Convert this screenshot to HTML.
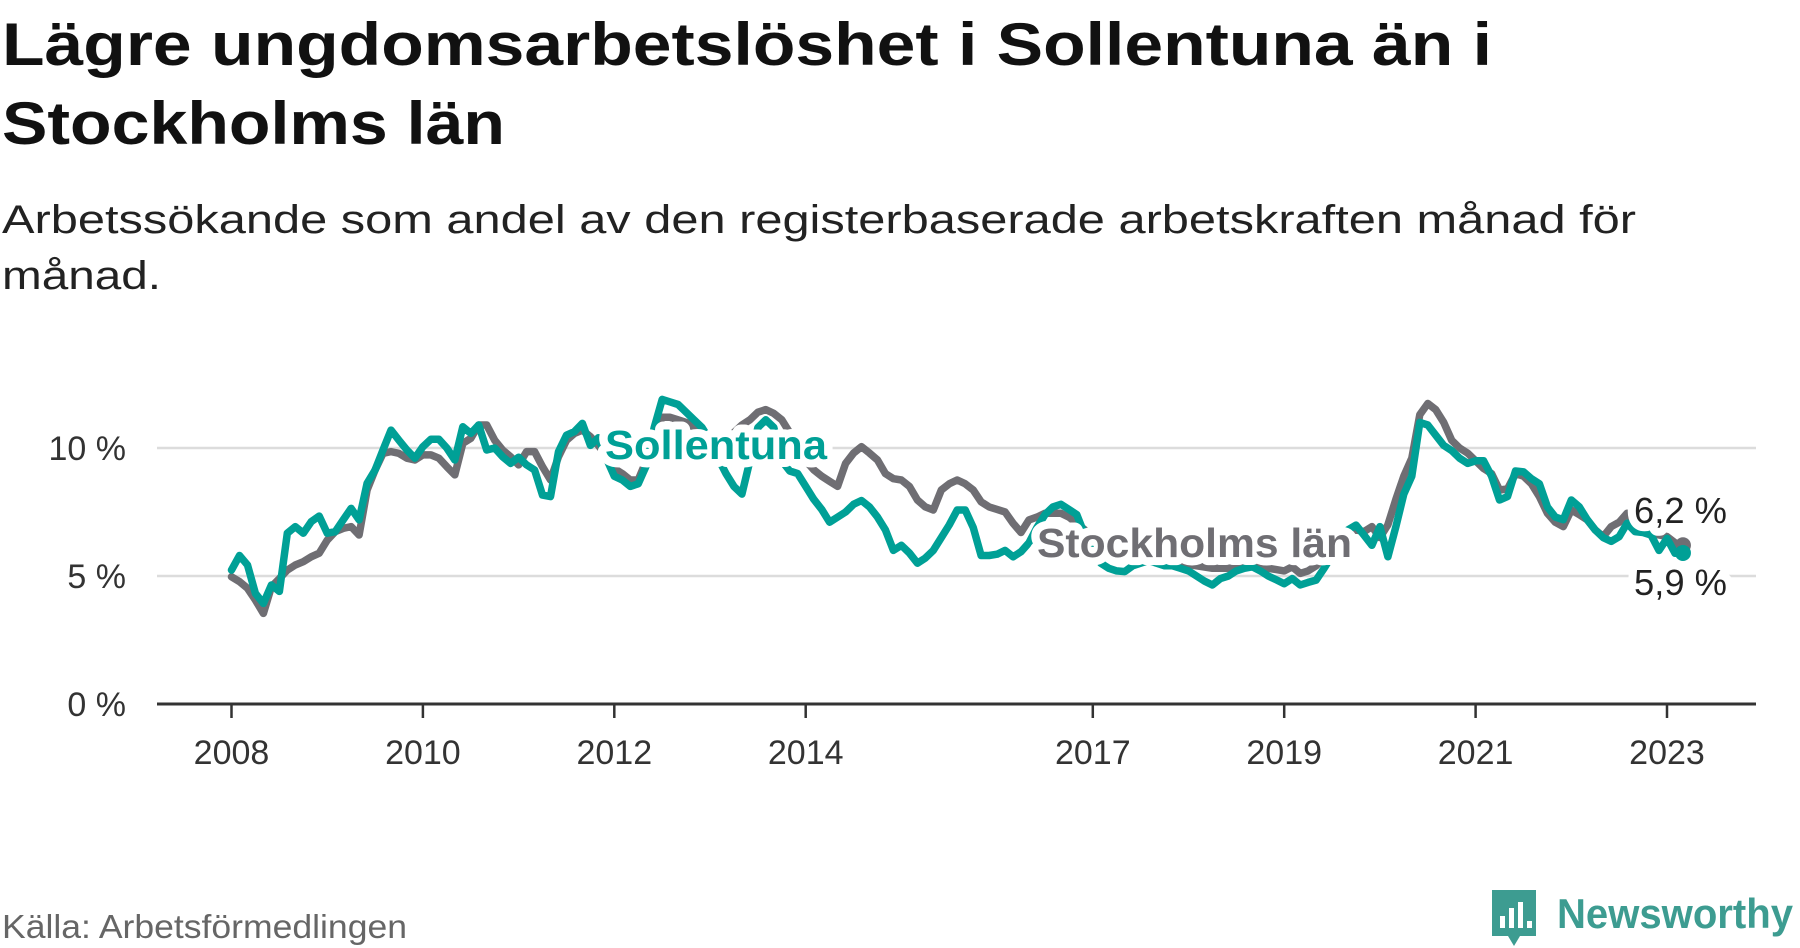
<!DOCTYPE html>
<html><head><meta charset="utf-8"><style>
html,body{margin:0;padding:0;background:#fff;}
svg{display:block;font-family:"Liberation Sans",sans-serif;}
</style></head><body>
<svg id="chart" width="1800" height="948" viewBox="0 0 1800 948">
<text x="2" y="65" font-size="60" font-weight="bold" fill="#111" textLength="1490" lengthAdjust="spacingAndGlyphs">Lägre ungdomsarbetslöshet i Sollentuna än i</text>
<text x="2" y="144" font-size="60" font-weight="bold" fill="#111" textLength="503" lengthAdjust="spacingAndGlyphs">Stockholms län</text>
<text x="2" y="233" font-size="40" fill="#222" textLength="1634" lengthAdjust="spacingAndGlyphs">Arbetssökande som andel av den registerbaserade arbetskraften månad för</text>
<text x="2" y="289" font-size="40" fill="#222" textLength="159" lengthAdjust="spacingAndGlyphs">månad.</text>
<g id="plot"></g>
<text x="2" y="938" font-size="33" fill="#666" textLength="405" lengthAdjust="spacingAndGlyphs">Källa: Arbetsförmedlingen</text>
<g>
<path d="M1492 890 h44 v46 h-16 l-6 10 l-6 -10 h-16 z" fill="#3d9c91"/>
<rect x="1500" y="916" width="5" height="12" fill="#fff"/>
<rect x="1509" y="908" width="5" height="20" fill="#fff"/>
<rect x="1518" y="902" width="5" height="26" fill="#fff"/>
<rect x="1527" y="921" width="5" height="7" fill="#fff"/>
<text x="1557" y="928" font-size="42" font-weight="bold" fill="#3d9c91" textLength="236" lengthAdjust="spacingAndGlyphs">Newsworthy</text>
</g>
</svg>
<script>
const yTicks = [0, 5, 10];
const yTickLabels = ["0 %", "5 %", "10 %"];
const xTicks = [2008, 2010, 2012, 2014, 2017, 2019, 2021, 2023];
const startYear = 2008;
const sollentuna = [5.23,5.8,5.43,4.32,3.93,4.65,4.4,6.67,6.93,6.67,7.12,7.34,6.67,6.73,7.19,7.64,7.19,8.62,9.14,9.92,10.7,10.3,9.92,9.6,10.05,10.34,10.34,10.0,9.53,10.83,10.57,10.9,9.92,10.0,9.66,9.4,9.64,9.34,9.14,8.16,8.1,9.86,10.5,10.64,10.96,10.1,10.4,9.6,8.9,8.75,8.5,8.6,9.3,10.8,11.9,11.8,11.7,11.4,11.1,10.8,10.3,9.6,9.0,8.5,8.2,9.5,10.8,11.1,10.8,9.5,9.1,9.0,8.5,8.0,7.6,7.1,7.3,7.5,7.8,7.95,7.7,7.3,6.8,6.0,6.2,5.9,5.5,5.7,6.0,6.5,7.0,7.58,7.58,6.9,5.8,5.8,5.85,6.0,5.75,5.95,6.3,6.9,7.4,7.7,7.8,7.6,7.4,6.6,5.9,5.5,5.3,5.2,5.17,5.4,5.5,5.6,5.5,5.4,5.4,5.3,5.2,5.0,4.8,4.65,4.9,5.0,5.2,5.3,5.36,5.2,5.0,4.85,4.7,4.9,4.65,4.75,4.84,5.3,5.8,6.3,6.8,6.99,6.6,6.2,6.93,5.75,6.93,8.2,8.9,11.0,10.9,10.5,10.1,9.9,9.6,9.4,9.5,9.5,8.9,7.97,8.1,9.1,9.07,8.8,8.6,7.7,7.3,7.2,7.97,7.7,7.2,6.8,6.5,6.35,6.54,7.06,6.73,6.7,6.6,6.0,6.47,5.89,5.9];
const stockholm = [4.97,4.78,4.52,4.06,3.54,4.58,4.9,5.23,5.43,5.56,5.75,5.89,6.4,6.73,6.86,6.93,6.6,8.36,9.14,9.79,9.86,9.79,9.6,9.53,9.73,9.73,9.6,9.27,8.95,10.18,10.38,10.9,10.9,10.3,9.92,9.66,9.34,9.86,9.86,9.27,8.75,9.66,10.3,10.57,10.7,10.44,10.1,9.7,9.2,9.0,8.75,8.75,9.5,10.5,11.2,11.2,11.1,11.0,10.8,10.6,10.4,10.2,10.3,10.6,10.9,11.1,11.4,11.5,11.35,11.1,10.6,10.0,9.5,9.15,8.9,8.7,8.5,9.4,9.8,10.05,9.8,9.53,9.0,8.8,8.75,8.5,7.97,7.7,7.58,8.36,8.6,8.75,8.6,8.36,7.9,7.7,7.6,7.5,7.06,6.7,7.19,7.3,7.45,7.45,7.45,7.3,7.06,6.8,6.5,6.3,6.1,6.0,5.9,5.85,5.8,5.75,5.7,5.6,5.55,5.5,5.45,5.4,5.35,5.3,5.3,5.3,5.35,5.4,5.4,5.35,5.3,5.25,5.2,5.36,5.1,5.2,5.4,5.7,6.1,6.5,6.7,6.8,6.73,6.93,6.5,7.0,8.0,8.9,9.6,11.3,11.74,11.5,11.0,10.3,10.0,9.8,9.5,9.2,9.0,8.36,8.4,9.0,8.9,8.6,8.1,7.45,7.1,6.93,7.58,7.4,7.19,6.8,6.54,6.93,7.1,7.45,7.0,6.8,6.7,6.6,6.54,6.3,6.2];

const NS = "http://www.w3.org/2000/svg";
const plot = document.getElementById('plot');
const X0 = 231.5, PX_PER_YEAR = 95.7, Y0 = 704, PX_PER_PCT = 25.6;
function xScale(yearFrac){ return X0 + (yearFrac - startYear) * PX_PER_YEAR; }
function yScale(v){ return Y0 - v * PX_PER_PCT; }
function mk(tag, attrs){ const e = document.createElementNS(NS, tag); for (const k in attrs) e.setAttribute(k, attrs[k]); plot.appendChild(e); return e; }

yTicks.forEach((t, i) => {
  if (t > 0) {
    const g = mk('line', {x1:157, x2:1756, y1:yScale(t), y2:yScale(t), stroke:'#dcdcdc', 'stroke-width':2.5});
    
    
  }
  const lb = mk('text', {x:126, y:yScale(t)+12, 'font-size':34, fill:'#333', 'text-anchor':'end'});
  lb.textContent = yTickLabels[i];
  
  
});
xTicks.forEach(t => {
  const tk = mk('line', {x1:xScale(t), x2:xScale(t), y1:Y0, y2:Y0+14, stroke:'#333', 'stroke-width':2.5});
  
  
  const lb = mk('text', {x:xScale(t), y:764, 'font-size':34, fill:'#333', 'text-anchor':'middle'});
  lb.textContent = String(t);
  
  
});
const ax = mk('line', {x1:157, x2:1756, y1:Y0, y2:Y0, stroke:'#333', 'stroke-width':3});



function drawLine(arr, color, name){
  const d = arr.map((v, m) => (m ? 'L' : 'M') + xScale(startYear + m/12).toFixed(1) + ' ' + yScale(v).toFixed(1)).join(' ');
  const p = mk('path', {d:d, fill:'none', stroke:color, 'stroke-width':7.5, 'stroke-linejoin':'round', 'stroke-linecap':'round'});
  
  
  const n = arr.length - 1;
  const c = mk('circle', {cx:xScale(startYear + n/12), cy:yScale(arr[n]), r:8, fill:color});
  
  
}
drawLine(stockholm, '#6f6e73', 'stockholm-line');
drawLine(sollentuna, '#00a096', 'sollentuna-line');

function label(txt, x, y, color, size, weight, name, len){
  const a = {x:x, y:y, 'font-size':size, 'font-weight':weight, fill:color, stroke:'#fff', 'stroke-width':16, 'paint-order':'stroke', 'stroke-linejoin':'round'};
  if (len) { a.textLength = len; a.lengthAdjust = 'spacingAndGlyphs'; }
  const t = mk('text', a);
  t.textContent = txt;
  
  
}
label('Sollentuna', 605, 459, '#00a096', 41, 'bold', 'sollentuna-series-label', 222);
label('Stockholms län', 1037, 557, '#6f6e73', 41, 'bold', 'stockholm-series-label', 315);
label('6,2 %', 1634, 523, '#222', 36, 'normal', 'stockholm-end-value', 93);
label('5,9 %', 1634, 595, '#222', 36, 'normal', 'sollentuna-end-value', 93);
</script>
</body></html>
